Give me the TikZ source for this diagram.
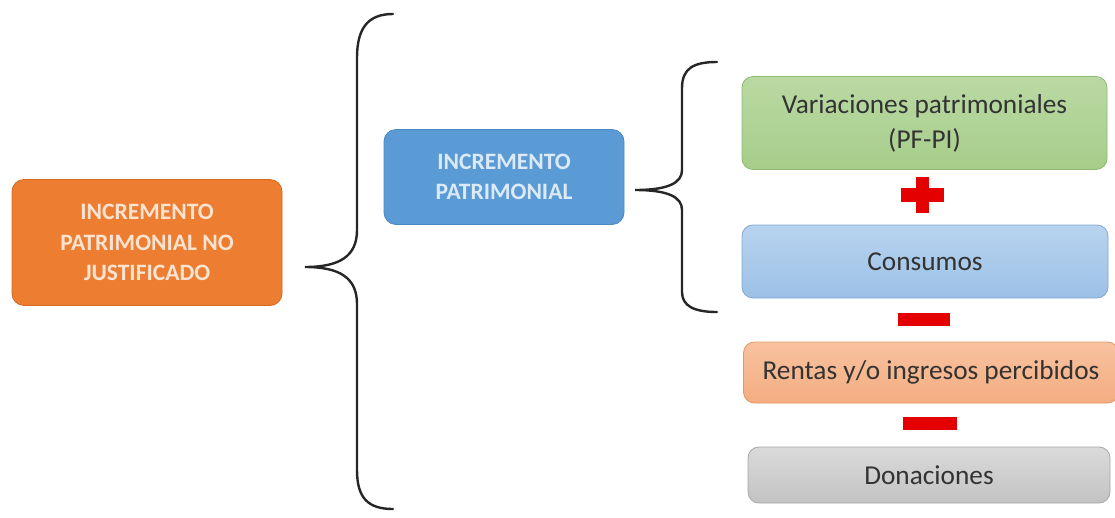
\documentclass[tikz,border=0pt]{standalone}
\usepackage{fontspec}
\setmainfont{Carlito}
\begin{document}
\begin{tikzpicture}[x=1pt,y=-1pt,
  box/.style={rounded corners=12pt, line width=0.8pt, inner sep=0pt, align=center},
  bigtext/.style={font=\fontsize{23.5}{30.5}\selectfont\bfseries},
  smalltext/.style={font=\fontsize{27.3}{35}\selectfont, text=black!80},
  brace/.style={line width=2.4pt, line cap=round, black!85},
  sign/.style={fill=red!90!black, draw=none}
]
\useasboundingbox (0,0) rectangle (1115,517);
\definecolor{orangeF}{HTML}{ED7D31}
\definecolor{orangeD}{HTML}{D46A22}
\definecolor{orangeT}{HTML}{FBE3D2}
\definecolor{blueF}{HTML}{5B9BD5}
\definecolor{blueD}{HTML}{4A88C2}
\definecolor{blueT}{HTML}{DCE9F6}
\definecolor{greenT}{HTML}{BAD9A3}
\definecolor{greenB}{HTML}{A6CD8A}
\definecolor{greenD}{HTML}{8DBA70}
\definecolor{lblueT}{HTML}{B8D3EF}
\definecolor{lblueB}{HTML}{9CC1E6}
\definecolor{lblueD}{HTML}{7FA8D3}
\definecolor{salT}{HTML}{F8C2A0}
\definecolor{salB}{HTML}{F4AD80}
\definecolor{salD}{HTML}{E39563}
\definecolor{grayT}{HTML}{DADADA}
\definecolor{grayB}{HTML}{C3C3C3}
\definecolor{grayD}{HTML}{A6A6A6}

% left box
\node[box, fill=orangeF, draw=orangeD, minimum width=270pt, minimum height=126pt,
  bigtext, text=orangeT] (ipnj) at (147,242.5)
  {INCREMENTO\\PATRIMONIAL NO\\JUSTIFICADO};

% middle box
\node[box, fill=blueF, draw=blueD, minimum width=240pt, minimum height=95pt,
  bigtext, text=blueT] (ip) at (504,177)
  {INCREMENTO\\PATRIMONIAL};

% right boxes
\node[box, rounded corners=11pt, top color=greenT, bottom color=greenB, draw=greenD,
  minimum width=365pt, minimum height=93pt, smalltext] (var) at (924.5,123)
  {Variaciones patrimoniales\\(PF-PI)};
\node[box, rounded corners=11pt, top color=lblueT, bottom color=lblueB, draw=lblueD,
  minimum width=366pt, minimum height=73pt, smalltext] (cons) at (925,261.5)
  {Consumos};
\node[box, rounded corners=11pt, top color=salT, bottom color=salB, draw=salD,
  minimum width=375pt, minimum height=61pt, smalltext] (rent) at (931,372.5)
  {Rentas y/o ingresos percibidos};
\node[box, rounded corners=11pt, top color=grayT, bottom color=grayB, draw=grayD,
  minimum width=362pt, minimum height=56pt, smalltext] (don) at (929,475)
  {Donaciones};

% signs
\fill[sign] (901,188) rectangle (944,202);
\fill[sign] (916,177) rectangle (929,213);
\fill[sign] (898,313) rectangle (950,326);
\fill[sign] (903,417) rectangle (957,430);

% big brace
\coordinate (bt) at (305,267);
\draw[brace] (393,14) .. controls (368,14) and (357,28) .. (357,58)
  -- (357,230) .. controls (357,256) and (340,267) .. (bt)
  .. controls (340,267) and (357,278) .. (357,304)
  -- (357,470) .. controls (357,498) and (368,509) .. (393,509);

% small brace
\coordinate (st) at (635,190);
\draw[brace] (717,62) .. controls (694,62) and (682,68) .. (682,88)
  -- (682,170) .. controls (682,183) and (668,190) .. (st)
  .. controls (668,190) and (682,197) .. (682,210)
  -- (682,292) .. controls (682,306) and (694,312) .. (717,312);
\end{tikzpicture}
\end{document}
